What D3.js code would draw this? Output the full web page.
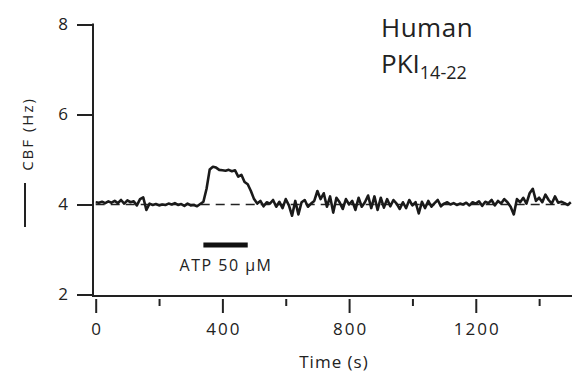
<!DOCTYPE html>
<html>
<head>
<meta charset="utf-8">
<script src="https://cdn.jsdelivr.net/npm/d3@7/dist/d3.min.js"></script>
<style>
  body { margin: 0; background: #fff; }
  svg text { font-family: "Open Sans", "Liberation Sans", sans-serif; fill: #222; }
</style>
</head>
<body>
<svg id="chart" width="572" height="372"></svg>
<script>
// ---- data ----
const sampleStep = 10; // s between samples
const cbfValues = [
  4.05, 4.04, 4.06, 4.03, 4.07, 4.04, 4.08, 4.03, 4.10, 4.02,
  4.09, 4.05, 4.07, 3.98, 4.12, 4.16, 3.88, 4.02, 3.99, 4.01,
  3.98, 4.00, 3.99, 4.02, 4.00, 4.03, 3.99, 4.01, 3.97, 4.02,
  3.98, 3.99, 3.96, 4.01, 4.06, 4.35, 4.78, 4.84, 4.82, 4.77,
  4.76, 4.75, 4.77, 4.74, 4.76, 4.62, 4.66, 4.50, 4.45, 4.30,
  4.12, 4.02, 4.08, 3.96, 4.05, 4.02, 4.10, 3.95, 4.06, 3.92,
  4.12, 3.98, 3.75, 4.08, 3.78, 4.05, 4.10, 3.95, 4.02, 4.08,
  4.30, 4.12, 4.25, 3.95, 4.18, 3.82, 4.15, 4.05, 3.90, 4.12,
  4.00, 4.08, 3.88, 4.15, 3.95, 4.05, 4.20, 3.92, 4.18, 3.88,
  4.15, 3.93, 4.12, 3.96, 4.10, 4.02, 3.90, 4.05, 3.92, 4.10,
  3.98, 4.05, 3.80, 4.06, 3.92, 4.08, 3.95, 4.03, 4.10, 3.96,
  4.02, 4.05, 4.00, 4.03, 3.99, 4.02, 4.00, 4.04, 3.98, 4.05,
  4.02, 4.07, 3.97, 4.06, 4.03, 4.10, 3.98, 4.08, 4.02, 4.12,
  4.05, 3.95, 3.78, 4.12, 4.05, 4.15, 4.02, 4.25, 4.35, 4.08,
  4.15, 4.05, 4.22, 4.10, 4.02, 4.18, 4.04, 4.06, 4.03, 3.99,
  4.05
];
const baselineCbf = 4;
const atpStart = 340, atpEnd = 480;
const atpLabel = "ATP 50 μM";
const xMajorTicks = [0, 400, 800, 1200];
const xMinorTicks = [200, 600, 1000, 1400];
const yTicks = [2, 4, 6, 8];

const svg = d3.select("#chart");

const x = d3.scaleLinear().domain([0, 1500]).range([95.7, 570.8]);
const y = d3.scaleLinear().domain([2, 8]).range([294.5, 24.5]);

// y axis (ticks outward, left)
const yAxis = d3.axisLeft(y).tickValues(yTicks).tickFormat(d3.format("d"))
  .tickSize(16).tickPadding(9).tickSizeOuter(0);
const gy = svg.append("g").attr("transform", "translate(93,0)").call(yAxis);
gy.select(".domain").remove();
gy.selectAll(".tick line").attr("stroke", "#222").attr("stroke-width", 2);
gy.selectAll(".tick text").attr("font-size", 17).attr("fill", "#222")
  .attr("font-family", "Open Sans");
svg.append("line").attr("x1", 93).attr("x2", 93).attr("y1", 23.5).attr("y2", 297)
  .attr("stroke", "#222").attr("stroke-width", 2);

// x axis line + detached ticks
svg.append("line").attr("x1", 92).attr("x2", 572).attr("y1", 296).attr("y2", 296)
  .attr("stroke", "#222").attr("stroke-width", 2);
const xAxis = d3.axisBottom(x).tickValues(xMajorTicks).tickFormat(d3.format("d"))
  .tickSize(14).tickPadding(10).tickSizeOuter(0);
const gx = svg.append("g").attr("transform", "translate(0,299)").call(xAxis);
gx.select(".domain").remove();
gx.selectAll(".tick line").attr("stroke", "#222").attr("stroke-width", 2);
gx.selectAll(".tick text").attr("font-size", 17).attr("fill", "#222")
  .attr("font-family", "Open Sans").attr("letter-spacing", 2).attr("dx", 1);
const xMinor = d3.axisBottom(x).tickValues(xMinorTicks).tickSize(7).tickFormat("").tickSizeOuter(0);
const gxm = svg.append("g").attr("transform", "translate(0,299)").call(xMinor);
gxm.select(".domain").remove();
gxm.selectAll(".tick line").attr("stroke", "#222").attr("stroke-width", 2);

svg.append("text").attr("x", 334).attr("y", 368).attr("text-anchor", "middle")
  .attr("font-size", 17).attr("letter-spacing", 1).text("Time (s)");

// y label with legend stroke
svg.append("text").attr("transform", "translate(33,134) rotate(-90)")
  .attr("text-anchor", "middle").attr("font-size", 15).attr("letter-spacing", 2)
  .text("CBF (Hz)");
svg.append("line").attr("x1", 25).attr("x2", 25).attr("y1", 183).attr("y2", 227)
  .attr("stroke", "#222").attr("stroke-width", 2);

// dashed baseline
svg.append("line")
  .attr("x1", x(0)).attr("x2", x(1500))
  .attr("y1", y(baselineCbf)).attr("y2", y(baselineCbf))
  .attr("stroke", "#222").attr("stroke-width", 1.5).attr("stroke-dasharray", "9,6");

// trace
const line = d3.line().x((d, i) => x(i * sampleStep)).y(d => y(d));
svg.append("path").datum(cbfValues).attr("d", line)
  .attr("fill", "none").attr("stroke", "#1a1a1a").attr("stroke-width", 2.6)
  .attr("stroke-linejoin", "round");

// ATP bar
svg.append("line").attr("x1", x(atpStart)).attr("x2", x(atpEnd))
  .attr("y1", 245).attr("y2", 245).attr("stroke", "#111").attr("stroke-width", 5);
svg.append("text").attr("x", 226).attr("y", 271).attr("text-anchor", "middle")
  .attr("font-size", 16).attr("letter-spacing", 1.5).text(atpLabel);

// title
svg.append("text").attr("x", 381).attr("y", 37).attr("font-size", 26)
  .attr("letter-spacing", 0.5).text("Human");
const t2 = svg.append("text").attr("x", 381).attr("y", 73).attr("font-size", 26);
t2.append("tspan").text("PKI");
t2.append("tspan").attr("dy", 6).attr("font-size", 18).text("14-22");
</script>
</body>
</html>
